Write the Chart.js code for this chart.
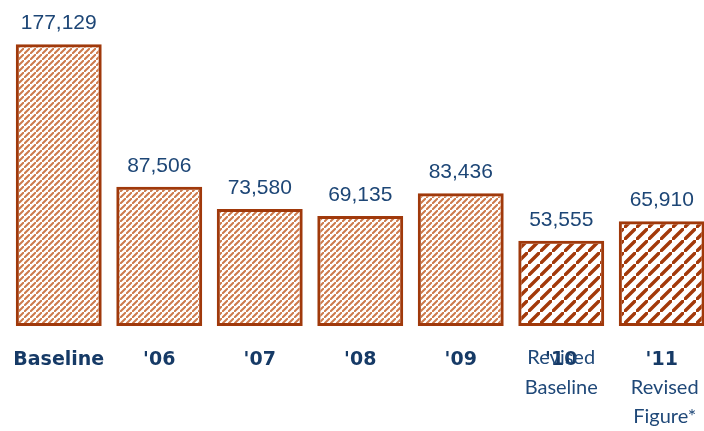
<!DOCTYPE html>
<html>
<head>
<meta charset="utf-8">
<script src="https://cdn.jsdelivr.net/npm/chart.js@4/dist/chart.umd.min.js"></script>
<style>
    html, body { margin: 0; padding: 0; background: #fff; overflow: hidden; }
    #wrap { width: 704px; height: 431px; overflow: hidden; }
    canvas { display: block; }
</style>
</head>
<body>
<div id="wrap"><canvas id="chart" width="712" height="431"></canvas></div>
<script>
// --- Data ---
const categories = ['Baseline', "'06", "'07", "'08", "'09", "'10", "'11"];
const values = [177129, 87506, 73580, 69135, 83436, 53555, 65910];
const revised = [false, false, false, false, false, true, true];
const noteLines = [[], [], [], [], [], ['Revised', 'Baseline'], ['Revised', 'Figure*']];
const noteStart = [0, 0, 0, 0, 0, 0, 1];

// --- Hatch patterns ---
function makeHatch(size, color, width) {
    const c = document.createElement('canvas');
    c.width = size; c.height = size;
    const g = c.getContext('2d');
    g.strokeStyle = color;
    g.lineWidth = width;
    g.lineCap = 'square';
    g.beginPath();
    g.moveTo(-size, size * 2); g.lineTo(size * 2, -size);
    g.moveTo(-size * 2, size); g.lineTo(size, -size * 2);
    g.moveTo(0, size * 3); g.lineTo(size * 3, 0);
    g.stroke();
    return g.canvas;
}

const ctx = document.getElementById('chart').getContext('2d');
const densePattern = ctx.createPattern(makeHatch(6, '#cd7a4c', 2), 'repeat');
const widePattern = ctx.createPattern(makeHatch(12, '#a3390a', 3.4), 'repeat');

// --- Labels plugin ---
const labelPlugin = {
    id: 'labels',
    afterDatasetsDraw(chart) {
        const c = chart.ctx;
        const bars = chart.getDatasetMeta(0).data;
        c.save();
        c.textAlign = 'center';
        c.textBaseline = 'alphabetic';
        bars.forEach((bar, i) => {
            c.fillStyle = '#1d4676';
            c.font = '21px "Liberation Sans", Arial, sans-serif';
            c.fillText(values[i].toLocaleString('en-US'), bar.x, bar.y - 15);

            c.fillStyle = '#163a66';
            c.font = 'bold 19px "DejaVu Sans", sans-serif';
            c.fillText(categories[i], bar.x, 365);

            c.fillStyle = '#1f4878';
            c.font = '20px Lato, sans-serif';
            noteLines[i].forEach((line, j) => {
                c.fillText(line, bar.x + (noteStart[i] ? 3 : 0), 364 + (noteStart[i] + j) * 29.5);
            });
        });
        c.restore();
    }
};

new Chart(ctx, {
    type: 'bar',
    data: {
        labels: categories,
        datasets: [{
            data: values,
            backgroundColor: revised.map(r => r ? widePattern : densePattern),
            borderColor: '#a0390b',
            borderWidth: 3,
            borderSkipped: false,
            barPercentage: 0.855,
            categoryPercentage: 1
        }]
    },
    options: {
        responsive: false,
        animation: false,
        layout: { padding: { top: 8, bottom: 105, left: 8.5, right: 0 } },
        plugins: { legend: { display: false }, tooltip: { enabled: false } },
        scales: {
            x: { display: false },
            y: { display: false, min: 0, max: 200000 }
        }
    },
    plugins: [labelPlugin]
});
</script>
</body>
</html>
